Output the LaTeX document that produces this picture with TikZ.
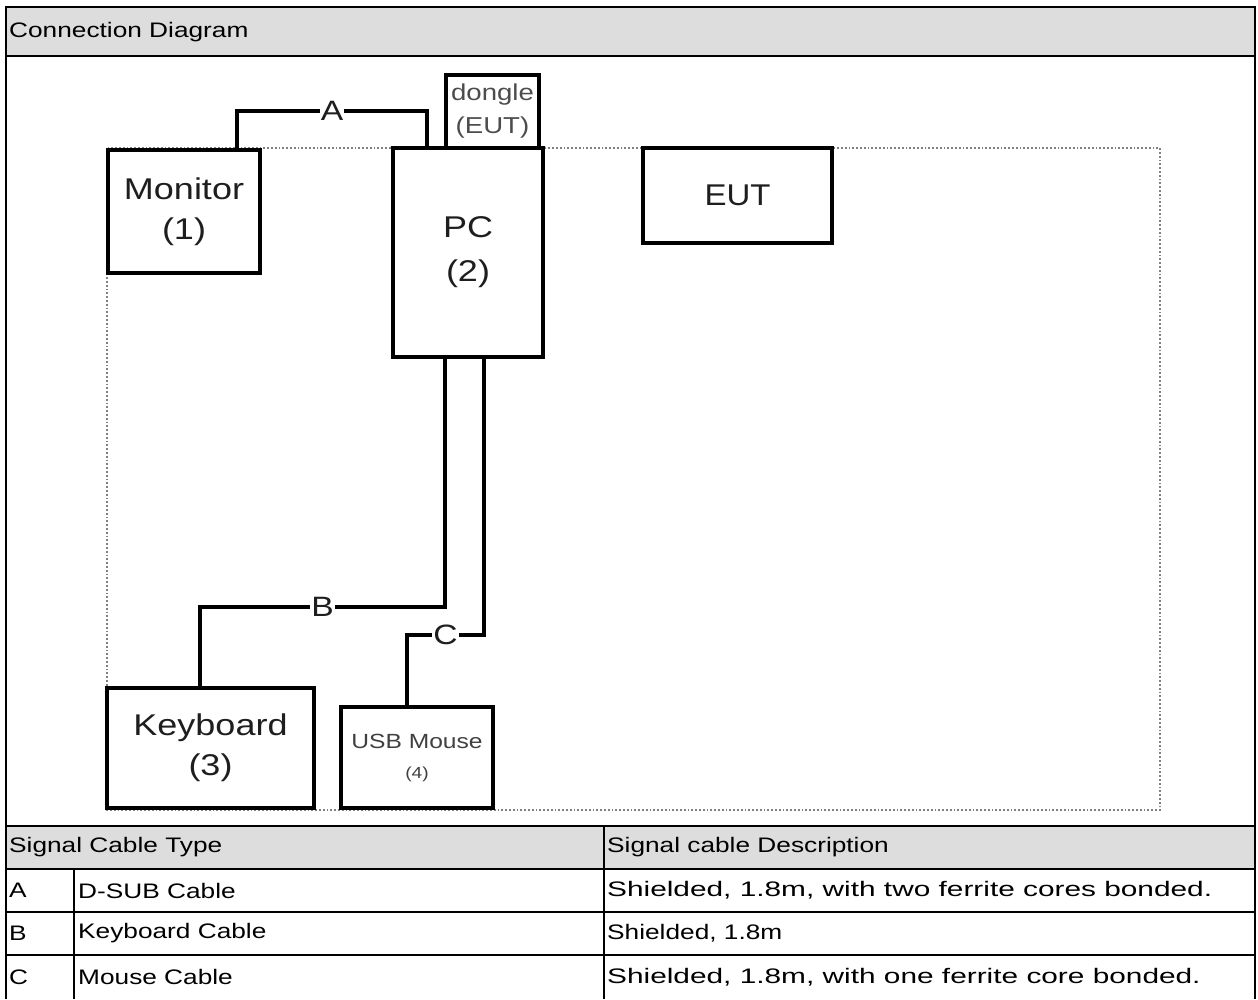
\documentclass[tikz,border=0pt]{standalone}
\usepackage{fontspec}
\usepackage{graphicx}
\setmainfont{Liberation Sans}
\definecolor{hdr}{HTML}{DDDDDD}
\definecolor{ink}{HTML}{1E1E1E}
\newcommand\sx[1]{\scalebox{1.2}[1]{#1}}
\newcommand\tx[1]{\scalebox{1.25}[1]{#1}}
\newcommand\wide[1]{\scalebox{1.42}[1]{#1}}
\begin{document}
\begin{tikzpicture}[x=1pt,y=-1pt,
  box/.style={draw=black, line width=3.4pt, inner sep=0pt, align=center, text=ink},
  big/.style={font=\fontsize{30}{40}\selectfont},
  cable/.style={draw=black, line width=3.2pt},
  lbl/.style={fill=white, inner sep=1pt, text=ink, font=\fontsize{28}{28}\selectfont},
  txt/.style={anchor=west, inner sep=0pt, font=\fontsize{21}{21}\selectfont},
  rule/.style={draw=black, line width=1.6pt}
]
\useasboundingbox (0,0) rectangle (1258,999);
% header bands
\fill[hdr] (6,7) rectangle (1255,56);
\fill[hdr] (6,826) rectangle (1255,869);
\node[txt] (title) at (9,32) {\tx{Connection Diagram}};
% dotted test-area outline
\draw[black!50, line width=1.8pt, dotted] (107,148) rectangle (1160,810);
% devices
\node[box, big, minimum width=152, minimum height=123] (mon) at (184,211.5) {\sx{Monitor}\\\sx{(1)}};
\node[box, big, minimum width=150, minimum height=209, font=\fontsize{30}{44}\selectfont] (pc) at (468,252.5) {\sx{PC}\\\sx{(2)}};
\node[box, minimum width=93, minimum height=73, text=black!70, font=\fontsize{23}{33}\selectfont] (dng) at (492.5,111.5) {\sx{dongle}\\\sx{(EUT)}};
\node[box, big, minimum width=189, minimum height=95] (eut) at (737.5,195.5) {\scalebox{1.1}[1]{EUT}};
\node[box, big, minimum width=207, minimum height=120] (kb) at (210.5,748) {\sx{Keyboard}\\\sx{(3)}};
\node[box, minimum width=152, minimum height=101, text=black!75, font=\fontsize{20.5}{30}\selectfont] (ms) at (417,757.5) {\sx{USB Mouse}\\{\fontsize{16}{16}\selectfont\sx{(4)}}};
% cable bends
\coordinate (a1) at (237,111);
\coordinate (a2) at (427,111);
\coordinate (b1) at (445,607);
\coordinate (b2) at (200,607);
\coordinate (c1) at (484,635);
\coordinate (c2) at (407,635);
\draw[cable] (a1 |- mon.north) -- (a1) -- node[lbl]{\sx{A}} (a2) -- (a2 |- pc.north);
\draw[cable] (b1 |- pc.south) -- (b1) -- node[lbl]{\sx{B}} (b2) -- (b2 |- kb.north);
\draw[cable] (c1 |- pc.south) -- (c1) -- node[lbl]{\sx{C}} (c2) -- (c2 |- ms.north);
% table
\draw[rule] (6,869) -- (1255,869);
\draw[rule] (6,912) -- (1255,912);
\draw[rule] (6,955) -- (1255,955);
\draw[rule] (74,869) -- (74,999);
\draw[rule] (604,826) -- (604,999);
\node[txt] (th1) at (9,847.5) {\tx{Signal Cable Type}};
\node[txt] (th2) at (607,847.5) {\tx{Signal cable Description}};
\node[txt] (ra) at (9,890.5) {\tx{A}};
\node[txt] (ra2) at (78,890.5) {\tx{D-SUB Cable}};
\node[txt] (ra3) at (607,890.5) {\wide{Shielded, 1.8m, with two ferrite cores bonded.}};
\node[txt] (rb) at (9,933.5) {\tx{B}};
\node[txt] (rb2) at (78,933.5) {\tx{Keyboard Cable}};
\node[txt] (rb3) at (607,933.5) {\tx{Shielded, 1.8m}};
\node[txt] (rc) at (9,977) {\tx{C}};
\node[txt] (rc2) at (78,977) {\tx{Mouse Cable}};
\node[txt] (rc3) at (607,977) {\wide{Shielded, 1.8m, with one ferrite core bonded.}};
% outer frame and main rules
\draw[black, line width=2.6pt] (6,999) -- (6,7) -- (1255,7) -- (1255,999);
\draw[black, line width=2.6pt] (6,56) -- (1255,56);
\draw[black, line width=2.6pt] (6,826) -- (1255,826);
\end{tikzpicture}
\end{document}
